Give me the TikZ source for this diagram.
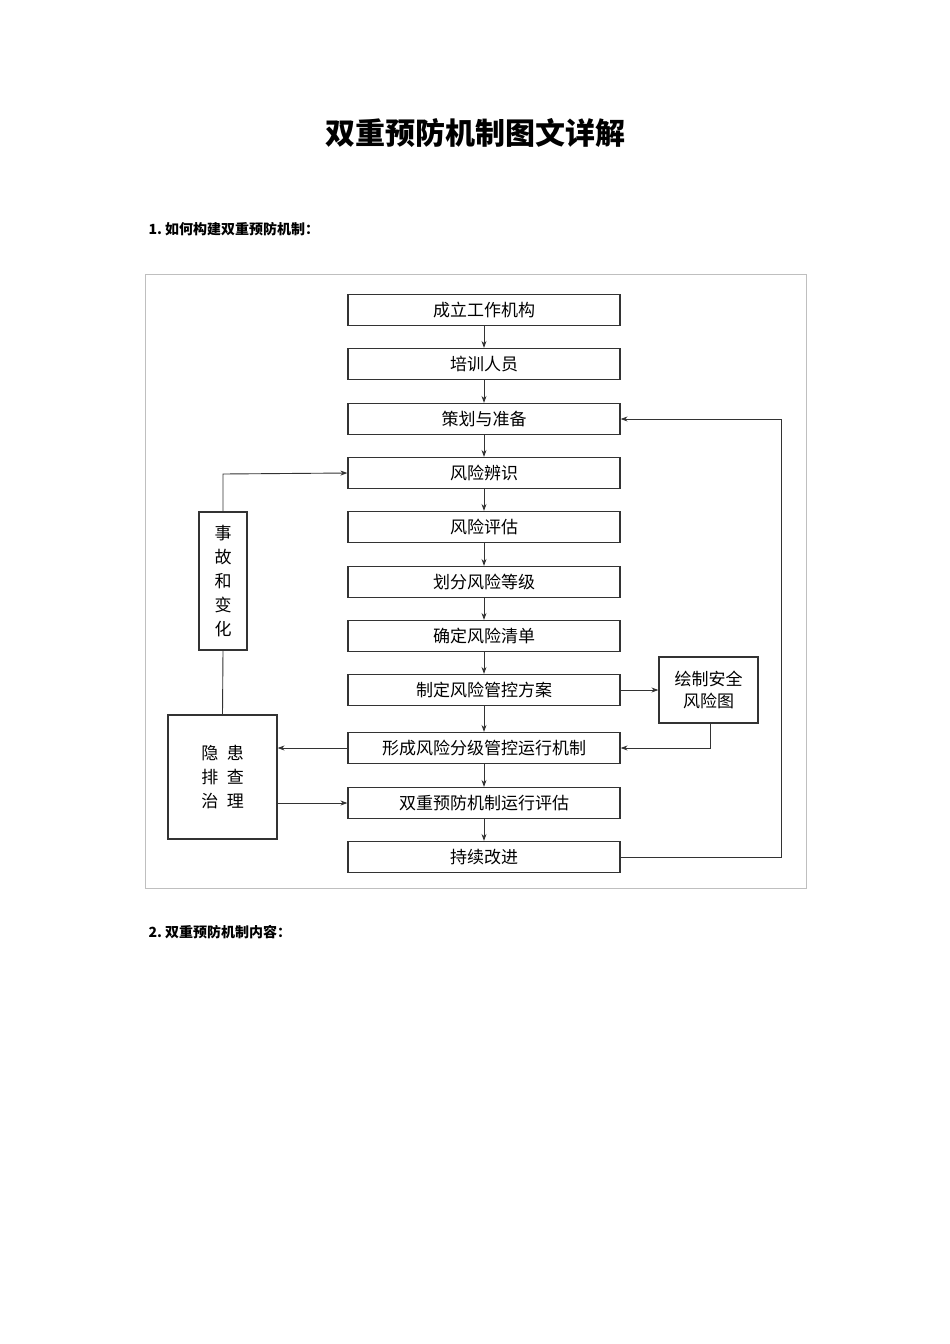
\documentclass[tikz,border=0pt]{standalone}
\usepackage{fontspec}
\setmainfont{Noto Sans CJK SC}
\usetikzlibrary{arrows.meta}
\begin{document}
\begin{tikzpicture}[x=1pt,y=-1pt,
 box/.style={draw=black!80,line width=1.2pt,minimum width=272pt,minimum height=31pt,inner sep=0pt,font=\fontsize{17}{17}\selectfont},
 sbox/.style={draw=black!80,line width=1.2pt,inner sep=0pt,font=\fontsize{17}{24}\selectfont,align=center},
 arr/.style={-{Stealth[length=7pt,width=5pt]},line width=0.9pt,black!80},
 ln/.style={line width=0.9pt,black!80}]
\useasboundingbox (0,0) rectangle (950,1344);
\node[font=\bfseries\fontsize{30}{30}\selectfont] (title) at (475,133) {双重预防机制图文详解};
\node[anchor=west,font=\bfseries\fontsize{14}{14}\selectfont] (h1) at (145,229) {1.\ 如何构建双重预防机制：};
\node[anchor=west,font=\bfseries\fontsize{14}{14}\selectfont] (h2) at (145,932) {2.\ 双重预防机制内容：};
\node[draw=black!25,line width=0.8pt,minimum width=661pt,minimum height=614pt,inner sep=0pt] (frame) at (475.5,581) {};
\node[box] (b1) at (484,310) {成立工作机构};
\node[box] (b2) at (484,364) {培训人员};
\node[box] (b3) at (484,419) {策划与准备};
\node[box] (b4) at (484,473) {风险辨识};
\node[box] (b5) at (484,527) {风险评估};
\node[box] (b6) at (484,582) {划分风险等级};
\node[box] (b7) at (484,636) {确定风险清单};
\node[box] (b8) at (484,690) {制定风险管控方案};
\node[box] (b9) at (484,748) {形成风险分级管控运行机制};
\node[box] (b10) at (484,803) {双重预防机制运行评估};
\node[box] (b11) at (484,857) {持续改进};
\foreach \a/\b in {b1/b2,b2/b3,b3/b4,b4/b5,b5/b6,b6/b7,b7/b8,b8/b9,b9/b10,b10/b11}
  \draw[arr] (\a.south) -- (\b.north);
\node[sbox,minimum width=48pt,minimum height=138pt] (acc) at (223,581) {事\\故\\和\\变\\化};
\node[sbox,minimum width=109pt,minimum height=124pt] (hid) at (222.5,777) {隐\enspace 患\\排\enspace 查\\治\enspace 理};
\node[sbox,minimum width=99pt,minimum height=66pt,font=\fontsize{17}{22}\selectfont] (map) at (708.5,690) {绘制安全\\风险图};
\coordinate (r1) at (781,857);
\coordinate (r2) at (781,419);
\draw[arr] (b11.east) -- (r1) -- (r2) -- (b3.east);
\draw[ln] (hid.north) -- (acc.south);
\coordinate (a1) at (223,474);
\draw[arr] (acc.north) -- (a1) -- (b4.west);
\draw[arr] (b9.west) -- (hid.east |- b9.west);
\draw[arr] (hid.east |- b10.west) -- (b10.west);
\draw[arr] (b8.east) -- (map.west);
\coordinate (m1) at (710,748);
\draw[arr] (map.south -| m1) -- (m1) -- (b9.east);
\end{tikzpicture}
\end{document}
